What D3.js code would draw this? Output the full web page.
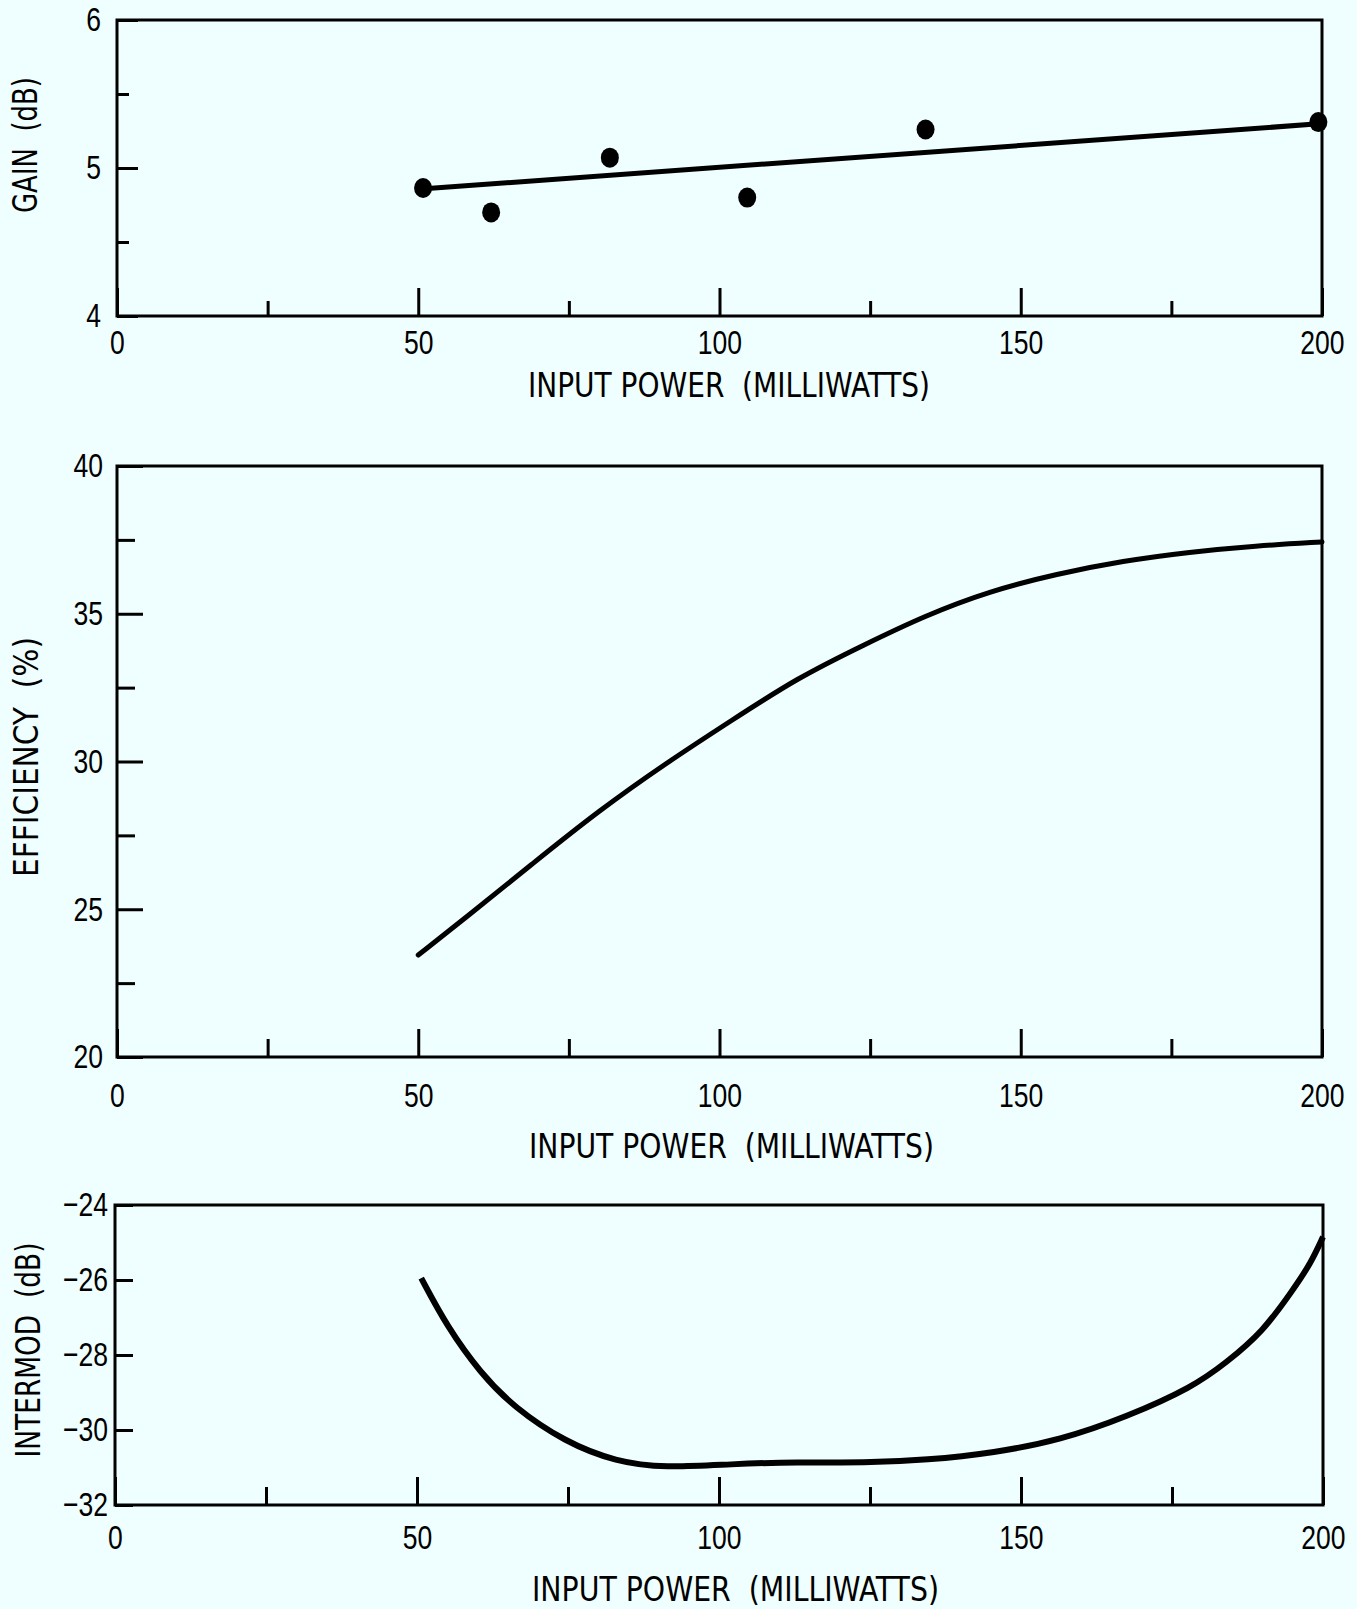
<!DOCTYPE html>
<html>
<head>
<meta charset="utf-8">
<script src="https://cdn.jsdelivr.net/npm/d3@7"></script>
<style>
  html, body { margin: 0; padding: 0; background: #effefe; }
  svg { display: block; font-family: "Liberation Sans Narrow", "DejaVu Sans Condensed", "Arial Narrow", sans-serif; }
  .tick text { fill: #000; }
</style>
</head>
<body>
<svg id="chart" width="1357" height="1609"></svg>
<script>
// gain panel: measured points and the straight fit through them
var gainX = [50.8, 62.1, 81.8, 104.6, 134.2, 199.4];
var gainY = [4.865, 4.70, 5.07, 4.80, 5.26, 5.31];
var gainFitX = [51, 200];
var gainFitY = [4.86, 5.30];

// efficiency curve
var effX = [50, 58, 69, 80, 91, 102, 113, 124, 134, 145, 156, 167, 178, 189, 200];
var effY = [23.45, 24.73, 26.55, 28.34, 29.93, 31.39, 32.84, 33.95, 34.93, 35.78, 36.35, 36.79, 37.09, 37.30, 37.43];

// intermod curve
var imX = [50.7, 55, 60.5, 66, 74.5, 83, 91, 102, 113, 124, 134.5, 145.5, 156.5, 167.5, 178.5, 184, 190, 195, 198, 200];
var imY = [-25.95, -27.25, -28.48, -29.39, -30.32, -30.85, -31.01, -30.91, -30.85, -30.88, -30.8, -30.61, -30.27, -29.65, -28.85, -28.2, -27.39, -26.27, -25.55, -24.85];

// tick values
var xMajor = [0, 50, 100, 150, 200];
var xMinor = [25, 75, 125, 175];
var gainTicks = [4, 5, 6];
var gainMinor = [4.5, 5.5];
var effTicks = [20, 25, 30, 35, 40];
var effMinor = [22.5, 27.5, 32.5, 37.5];
var imTicks = [-32, -30, -28, -26, -24];

var xTitle = "INPUT POWER\u00a0\u00a0(MILLIWATTS)";
var squeeze = 0.78;   // fake a condensed face

var svg = d3.select("#chart");

function zip(a, b) { return a.map(function(v, i) { return [v, b[i]]; }); }

function narrow(sel) {
  sel.each(function() {
    var t = d3.select(this);
    var x = +t.attr("x") || 0;
    t.attr("x", x / squeeze).attr("transform", "scale(" + squeeze + ",1)");
  });
}

function panel(o) {
  var x = d3.scaleLinear().domain([0, 200]).range([o.left, o.right]);
  var y = d3.scaleLinear().domain(o.ydom).range([o.bottom, o.top]);
  var g = svg.append("g");

  // x ticks (inward), labels below
  g.append("g")
    .attr("transform", "translate(0," + o.bottom + ")")
    .call(d3.axisBottom(x).tickValues(xMajor).tickSize(-28).tickPadding(o.xpad).tickFormat(d3.format("d")))
    .call(function(a) {
      a.select(".domain").remove();
      a.selectAll("line").attr("stroke", "#000").attr("stroke-width", 3);
      a.selectAll("text").attr("font-size", 34).call(narrow);
    });
  g.append("g")
    .attr("transform", "translate(0," + o.bottom + ")")
    .call(d3.axisBottom(x).tickValues(xMinor).tickSize(-o.xminor).tickFormat(""))
    .call(function(a) {
      a.select(".domain").remove();
      a.selectAll("line").attr("stroke", "#000").attr("stroke-width", 3);
    });

  // y ticks (inward), labels left
  g.append("g")
    .attr("transform", "translate(" + o.left + ",0)")
    .call(d3.axisLeft(y).tickValues(o.yticks).tickSize(-o.ymajor).tickPadding(o.ypad)
      .tickFormat(function(d) { return String(d).replace("-", "\u2212"); }))
    .call(function(a) {
      a.select(".domain").remove();
      a.selectAll("line").attr("stroke", "#000").attr("stroke-width", 3);
      a.selectAll("text").attr("font-size", 34).call(narrow);
    });
  if (o.yminor) {
    g.append("g")
      .attr("transform", "translate(" + o.left + ",0)")
      .call(d3.axisLeft(y).tickValues(o.yminor).tickSize(-o.yminorLen).tickFormat(""))
      .call(function(a) {
        a.select(".domain").remove();
        a.selectAll("line").attr("stroke", "#000").attr("stroke-width", 3);
      });
  }

  // frame
  g.append("rect")
    .attr("x", o.left).attr("y", o.top)
    .attr("width", o.right - o.left).attr("height", o.bottom - o.top)
    .attr("fill", "none").attr("stroke", "#000").attr("stroke-width", 3);

  // titles
  g.append("text")
    .attr("x", o.xtitle[0]).attr("y", o.xtitle[1])
    .attr("font-size", 33)
    .attr("textLength", o.xtitle[2]).attr("lengthAdjust", "spacingAndGlyphs")
    .text(xTitle);
  g.append("text")
    .attr("transform", "translate(" + o.ytitle[0] + "," + o.ytitle[1] + ") rotate(-90)")
    .attr("text-anchor", "middle")
    .attr("font-size", 33)
    .attr("textLength", o.ytitle[2]).attr("lengthAdjust", "spacingAndGlyphs")
    .text(o.yname);

  return { g: g, x: x, y: y };
}

// --- gain
var p1 = panel({ left: 117, right: 1322, top: 20, bottom: 316, ydom: [4, 6],
  yticks: gainTicks, yminor: gainMinor, ymajor: 21, yminorLen: 12, ypad: 16,
  xminor: 15, xpad: 14, xtitle: [528, 397, 402], ytitle: [37, 145, 136], yname: "GAIN\u00a0\u00a0(dB)" });

p1.g.append("path")
  .datum(zip(gainFitX, gainFitY))
  .attr("fill", "none").attr("stroke", "#000").attr("stroke-width", 5)
  .attr("d", d3.line().x(function(d) { return p1.x(d[0]); }).y(function(d) { return p1.y(d[1]); }));

p1.g.selectAll(".dot")
  .data(zip(gainX, gainY))
  .enter().append("ellipse")
  .attr("class", "dot")
  .attr("cx", function(d) { return p1.x(d[0]); })
  .attr("cy", function(d) { return p1.y(d[1]); })
  .attr("rx", 9).attr("ry", 10)
  .attr("fill", "#000");

// --- efficiency
var p2 = panel({ left: 117, right: 1322, top: 466, bottom: 1057, ydom: [20, 40],
  yticks: effTicks, yminor: effMinor, ymajor: 26, yminorLen: 18, ypad: 14,
  xminor: 18, xpad: 26, xtitle: [529, 1158, 405], ytitle: [38, 757, 240], yname: "EFFICIENCY\u00a0\u00a0(%)" });

p2.g.append("path")
  .datum(zip(effX, effY))
  .attr("fill", "none").attr("stroke", "#000").attr("stroke-width", 5)
  .attr("stroke-linecap", "round")
  .attr("d", d3.line().curve(d3.curveBasis)
    .x(function(d) { return p2.x(d[0]); }).y(function(d) { return p2.y(d[1]); }));

// --- intermod
var p3 = panel({ left: 115, right: 1323, top: 1205, bottom: 1505, ydom: [-32, -24],
  yticks: imTicks, yminor: null, ymajor: 18, ypad: 7,
  xminor: 18, xpad: 20, xtitle: [532, 1601, 407], ytitle: [40, 1350, 215], yname: "INTERMOD\u00a0\u00a0(dB)" });

p3.g.append("path")
  .datum(zip(imX, imY))
  .attr("fill", "none").attr("stroke", "#000").attr("stroke-width", 6)
  .attr("d", d3.line().curve(d3.curveBasis)
    .x(function(d) { return p3.x(d[0]); }).y(function(d) { return p3.y(d[1]); }));
</script>
</body>
</html>
